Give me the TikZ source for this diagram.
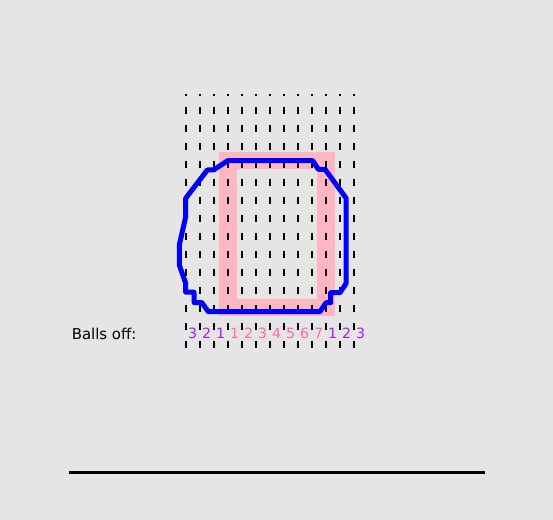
\documentclass[tikz,border=0pt]{standalone}
\usepackage{fontspec}
\setmainfont{DejaVu Sans}
\definecolor{bg}{RGB}{229,229,229}
\definecolor{framepink}{RGB}{255,182,193}
\definecolor{numpurple}{RGB}{160,32,240}
\definecolor{numpink}{RGB}{255,105,180}
\definecolor{hullblue}{RGB}{0,0,255}
\begin{document}
\begin{tikzpicture}[x=0.75pt,y=-0.75pt,
  gridline/.style={line width=1.6pt,dash pattern=on 5.4pt off 8.1pt,dash phase=3.75pt},
  hull/.style={draw=hullblue,line width=3.75pt,line join=round},
  pinkframe/.style={draw=framepink,line width=13.1pt},
  numlab/.style={font=\fontsize{10.6pt}{12pt}\selectfont,anchor=base,inner sep=0pt},
  titlelab/.style={font=\fontsize{11.2pt}{13pt}\selectfont,anchor=base west,inner sep=0pt},
  baseline/.style={line width=1.9pt}]
\useasboundingbox (0,0) rectangle (553,520);
\fill[bg] (0,0) rectangle (553,520);
% pink frame
\draw[pinkframe] (228,160.5) rectangle (326,307.5);
% dashed vertical lines
\foreach \k in {0,...,12}{
  \draw[gridline] ({185.7+14*\k},94) -- ({185.7+14*\k},349.5);
}
% blue hull
\draw[hull] (227.7,160.7) -- (312.7,160.7) -- (318.3,169.3) -- (325,169.3)
  -- (346.2,198.3) -- (346.2,283.3) -- (340,292.7) -- (330.7,292.7)
  -- (330.7,302.7) -- (326,302.7) -- (320,311.7) -- (208.3,311.7)
  -- (201.7,302.5) -- (194,302.5) -- (194,292.2) -- (185.7,292.2)
  -- (185.7,283.3) -- (179.3,265) -- (179.3,245) -- (185.7,216.7)
  -- (185.7,198.3) -- (207.3,170) -- (213.5,170) -- cycle;
% labels
\node[titlelab] (title) at (71.5,339.3) {Balls off:};
\foreach \n [count=\i from 0] in {3,2,1}{
  \node[numlab,text=numpurple] (l\i) at ({192.7+14*\i},338.5) {\n};
}
\foreach \n [count=\i from 3] in {1,2,3,4,5,6,7}{
  \node[numlab,text=numpink] (m\i) at ({192.7+14*\i},338.5) {\n};
}
\foreach \n [count=\i from 10] in {1,2,3}{
  \node[numlab,text=numpurple] (r\i) at ({192.7+14*\i},338.5) {\n};
}
% bottom line
\coordinate (bl) at (69,472.5);
\coordinate (br) at (485,472.5);
\draw[baseline] (bl) -- (br);
\end{tikzpicture}
\end{document}
